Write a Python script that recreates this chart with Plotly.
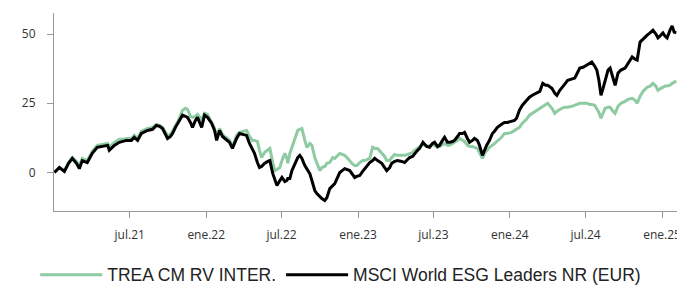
import plotly.graph_objects as go

dates = [
"2021-01-01","2021-01-13","2021-01-25","2021-02-04","2021-02-13","2021-02-23","2021-03-02","2021-03-09","2021-03-21","2021-04-02",
"2021-04-14","2021-04-26","2021-05-09","2021-05-13","2021-05-25","2021-06-06","2021-06-16","2021-06-23","2021-07-05","2021-07-12",
"2021-07-20","2021-07-29","2021-08-13","2021-08-25","2021-09-03","2021-09-11","2021-09-18","2021-09-25","2021-09-30","2021-10-07",
"2021-10-12","2021-10-19","2021-10-26","2021-11-05","2021-11-12","2021-11-17","2021-11-24","2021-11-29","2021-12-06","2021-12-11",
"2021-12-16","2021-12-21","2021-12-28","2022-01-04","2022-01-14","2022-01-21","2022-01-26","2022-02-02","2022-02-09","2022-02-14",
"2022-02-21","2022-02-26","2022-03-05","2022-03-15","2022-03-22","2022-03-29","2022-04-08","2022-04-15","2022-04-22","2022-04-27",
"2022-05-04","2022-05-09","2022-05-14","2022-05-21","2022-05-29","2022-06-03","2022-06-10","2022-06-15","2022-06-20","2022-06-27",
"2022-07-02","2022-07-09","2022-07-14","2022-07-16","2022-07-21","2022-07-26","2022-08-02","2022-08-09","2022-08-14","2022-08-19",
"2022-08-26","2022-08-31","2022-09-07","2022-09-12","2022-09-19","2022-09-24","2022-10-01","2022-10-06","2022-10-13","2022-10-18",
"2022-10-25","2022-11-01","2022-11-06","2022-11-18","2022-11-30","2022-12-12","2022-12-17","2022-12-24","2022-12-29","2023-01-05",
"2023-01-12","2023-01-17","2023-01-29","2023-02-05","2023-02-10","2023-02-17","2023-02-27","2023-03-06","2023-03-11","2023-03-18",
"2023-03-23","2023-03-30","2023-04-06","2023-04-16","2023-04-23","2023-04-30","2023-05-05","2023-05-12","2023-05-17","2023-05-24",
"2023-05-29","2023-06-06","2023-06-15","2023-06-22","2023-06-29","2023-07-04","2023-07-11","2023-07-16","2023-07-23","2023-07-28",
"2023-08-04","2023-08-09","2023-08-16","2023-08-21","2023-08-28","2023-09-02","2023-09-09","2023-09-14","2023-09-21","2023-09-26",
"2023-10-03","2023-10-08","2023-10-15","2023-10-20","2023-10-27","2023-11-01","2023-11-06","2023-11-13","2023-11-20","2023-11-25",
"2023-12-02","2023-12-12","2023-12-19","2023-12-26","2024-01-05","2024-01-12","2024-01-17","2024-01-24","2024-01-31","2024-02-10",
"2024-02-17","2024-02-24","2024-03-06","2024-03-13","2024-03-20","2024-03-27","2024-04-01","2024-04-11","2024-04-18","2024-04-23",
"2024-04-30","2024-05-05","2024-05-12","2024-05-19","2024-05-29","2024-06-05","2024-06-12","2024-06-17","2024-06-25","2024-07-04",
"2024-07-11","2024-07-16","2024-07-23","2024-07-28","2024-08-02","2024-08-07","2024-08-12","2024-08-17","2024-08-24","2024-08-29",
"2024-09-03","2024-09-10","2024-09-17","2024-09-24","2024-10-04","2024-10-11","2024-10-21","2024-10-28","2024-11-02","2024-11-09",
"2024-11-16","2024-11-26","2024-12-03","2024-12-10","2024-12-17","2024-12-22","2024-12-29","2025-01-03","2025-01-08","2025-01-13",
"2025-01-20","2025-01-25","2025-01-30","2025-02-04",
]

msci = [
0, 1.8, 0.4, 3.3, 5.1, 3.3, 1.4, 4.3, 3.6, 6.9,
9.1, 9.4, 9.8, 8.0, 9.8, 10.9, 11.2, 11.6, 11.6, 12.7,
11.6, 14.1, 15.2, 15.6, 17.0, 16.7, 15.9, 13.8, 12.3, 13.0,
14.1, 16.3, 18.1, 20.7, 20.3, 19.9, 18.1, 16.3, 18.8, 19.9,
18.1, 16.3, 20.7, 19.9, 17.8, 15.2, 11.6, 15.2, 13.0, 12.3,
11.6, 10.9, 8.7, 12.3, 14.1, 13.8, 13.4, 10.5, 8.0, 6.9,
3.6, 1.8, 2.2, 3.3, 4.0, 4.3, -0.4, -2.9, -4.7, -2.9,
-1.8, -3.3, -2.9, -2.2, -2.2, 0.7, 3.3, 5.4, 6.2, 5.1,
2.5, 1.4, -0.4, -2.9, -6.5, -7.6, -8.7, -9.4, -10.1, -9.1,
-5.8, -4.7, -4.0, 0.0, 1.4, 0.7, -0.4, -1.8, -1.4, -1.1,
0.4, 1.4, 3.6, 4.3, 5.1, 4.3, 3.3, 1.8, 0.7, 1.8,
3.3, 4.0, 4.3, 4.0, 3.6, 4.7, 5.4, 5.8, 6.9, 8.0,
8.7, 10.9, 9.4, 9.1, 10.5, 10.9, 9.4, 9.8, 11.6, 12.7,
10.9, 10.9, 11.2, 11.6, 13.0, 14.1, 14.1, 14.5, 12.3, 10.9,
11.6, 12.3, 11.6, 9.8, 6.2, 8.0, 9.8, 11.6, 14.1, 14.9,
16.3, 17.4, 18.1, 18.1, 18.5, 18.8, 19.6, 22.5, 24.3, 26.1,
27.2, 27.9, 28.6, 29.3, 32.2, 31.5, 31.5, 30.4, 28.6, 27.9,
29.7, 30.8, 31.9, 33.3, 33.7, 34.1, 36.2, 37.7, 38.0, 38.8,
39.5, 39.9, 38.4, 37.0, 33.3, 27.9, 30.4, 33.3, 37.0, 37.7,
34.8, 31.5, 35.9, 37.0, 37.7, 39.5, 41.7, 40.9, 40.6, 47.1,
48.2, 49.6, 50.4, 51.4, 50.0, 48.6, 49.6, 50.4, 49.3, 48.6,
51.4, 52.9, 50.7, 50.4,
]

trea = [
0, 1.8, 0.7, 3.6, 5.4, 4.0, 2.5, 5.1, 4.3, 7.6,
9.8, 10.1, 10.5, 9.1, 10.9, 12.0, 12.0, 12.3, 12.3, 13.4,
12.3, 14.9, 15.9, 16.3, 17.4, 17.0, 16.3, 14.5, 13.4, 13.8,
14.9, 17.0, 18.8, 22.5, 23.2, 22.8, 20.3, 19.9, 20.3, 21.0,
19.9, 19.2, 21.4, 21.0, 18.1, 15.9, 12.7, 15.9, 13.8, 13.0,
12.3, 11.6, 9.4, 13.4, 14.5, 14.9, 15.2, 13.0, 11.6, 11.6,
11.2, 8.0, 5.4, 7.2, 8.3, 8.7, 3.6, 0.7, 1.1, 1.8,
4.3, 6.9, 5.1, 3.3, 6.9, 9.1, 12.7, 15.2, 15.6, 15.9,
11.6, 9.1, 10.5, 9.8, 5.4, 3.3, 0.7, 1.8, 2.2, 3.3,
3.6, 5.4, 5.1, 6.9, 6.2, 4.3, 3.3, 2.5, 2.5, 3.6,
4.3, 4.3, 5.1, 9.1, 8.7, 8.7, 7.2, 5.8, 4.3, 4.3,
5.4, 6.5, 6.2, 6.2, 6.2, 6.5, 6.9, 7.2, 8.0, 8.7,
9.1, 10.1, 9.4, 9.8, 10.1, 9.8, 9.1, 9.4, 10.1, 10.5,
9.8, 9.8, 10.5, 10.9, 11.6, 12.3, 11.6, 11.2, 9.8, 9.4,
9.4, 9.1, 8.7, 7.2, 5.1, 6.9, 8.0, 9.1, 9.8, 10.5,
11.2, 12.7, 14.1, 14.1, 14.5, 15.2, 15.6, 16.3, 17.8, 19.2,
20.7, 21.4, 22.5, 23.2, 23.9, 24.6, 25.0, 23.2, 21.4, 22.1,
22.8, 23.2, 23.6, 23.6, 23.9, 24.3, 24.6, 25.0, 25.0, 25.0,
24.6, 24.6, 24.3, 23.2, 21.7, 19.6, 21.7, 23.2, 23.6, 23.6,
22.5, 21.4, 23.9, 25.0, 25.7, 26.4, 26.8, 26.1, 25.0, 27.5,
29.3, 30.8, 31.2, 32.2, 31.2, 29.7, 30.4, 30.8, 31.2, 31.2,
31.5, 32.2, 32.6, 33.0,
]

tick_dates = ["2021-07-01", "2022-01-01", "2022-07-01", "2023-01-01",
              "2023-07-01", "2024-01-01", "2024-07-01", "2025-01-01"]
tick_labels = ["jul.21", "ene.22", "jul.22", "ene.23",
               "jul.23", "ene.24", "jul.24", "ene.25"]
y_ticks = [0, 25, 50]

fig = go.Figure()
fig.add_trace(go.Scatter(x=dates, y=trea, mode="lines", name="TREA CM RV INTER.",
                         line=dict(color="#8ecaa2", width=3)))
fig.add_trace(go.Scatter(x=dates, y=msci, mode="lines", name="MSCI World ESG Leaders NR (EUR)",
                         line=dict(color="#000000", width=3)))

# the page body adds an 8px margin, so the figure is sized to fill the rest of the window
fig.update_layout(
    width=677, height=277,
    margin=dict(l=46, r=5, t=5, b=74, autoexpand=False),
    paper_bgcolor="white", plot_bgcolor="white",
    font=dict(family="Open Sans", size=12, color="#333333"),
    showlegend=True,
    legend=dict(orientation="h", x=-0.030, xanchor="left", y=-0.322, yanchor="middle",
                font=dict(family="Liberation Sans, Arial", size=17.5, color="#222222"),
                itemwidth=62, traceorder="normal", bgcolor="rgba(0,0,0,0)"),
    xaxis=dict(range=["2020-12-31", "2025-02-13"], tickvals=tick_dates, ticktext=tick_labels,
               showgrid=False, zeroline=False, showline=True, linecolor="#999999", linewidth=1,
               ticks="outside", ticklen=6, tickcolor="#999999", ticklabelstandoff=7,
               automargin=False),
    yaxis=dict(range=[-13.9, 57.6], tickvals=y_ticks, showgrid=False, zeroline=False,
               showline=True, linecolor="#999999", linewidth=1,
               ticks="outside", ticklen=6, tickcolor="#999999", ticklabelstandoff=9,
               automargin=False),
)

fig.write_html("out.html")
